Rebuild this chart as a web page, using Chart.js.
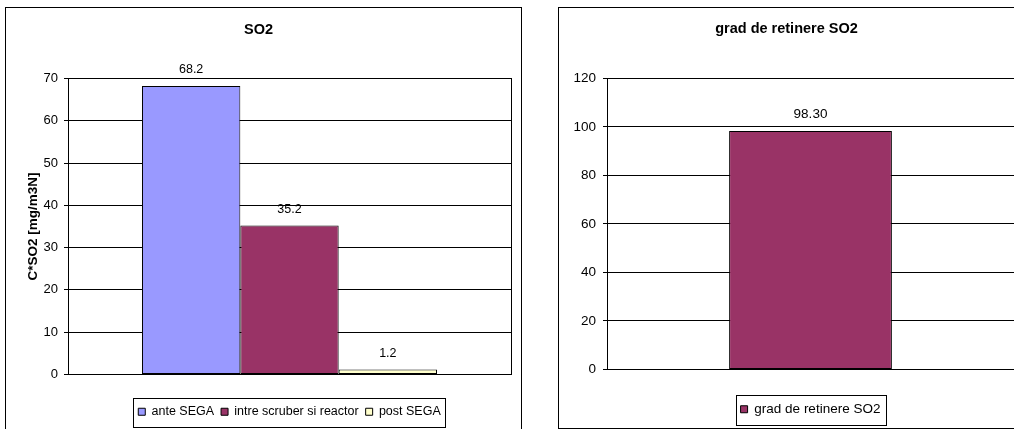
<!DOCTYPE html>
<html>
<head>
<meta charset="utf-8">
<script src="https://cdn.jsdelivr.net/npm/chart.js@4.4.1/dist/chart.umd.min.js"></script>
<style>
    html, body { margin: 0; padding: 0; background: #fff; overflow: hidden; }
    body { width: 1014px; height: 429px; position: relative; }
    .box { position: absolute; border: 1px solid #000; background: #fff; overflow: hidden; }
    #box-so2 { left: 5px; top: 7px; width: 515px; height: 422px; }
    #box-grad { left: 558px; top: 7px; width: 470px; height: 420px; }
    canvas { display: block; }
</style>
</head>
<body>
<div class="box" id="box-so2"><canvas id="chart-so2" width="514" height="420"></canvas></div>
<div class="box" id="box-grad"><canvas id="chart-grad" width="456" height="420"></canvas></div>

<script>
// concentratii SO2 pe puncte de masura
const so2Categories = ['SO2'];
const so2Series = ['ante SEGA', 'intre scruber si reactor', 'post SEGA'];
const so2Values = [68.2, 35.2, 1.2];
const so2Colors = ['#9999FF', '#993366', '#FFFFCC'];
const so2Ticks = { min: 0, max: 70, step: 10 };

// grad de retinere
const gradCategories = ['grad de retinere SO2'];
const gradSeries = ['grad de retinere SO2'];
const gradValues = [98.3];
const gradColors = ['#993366'];
const gradTicks = { min: 0, max: 120, step: 20 };

const FONT = 'Arial, "Liberation Sans", sans-serif';

// chenar negru in jurul zonei de desen
const plotFrame = {
    id: 'plotFrame',
    beforeDatasetsDraw(chart) {
        const a = chart.chartArea;
        const ctx = chart.ctx;
        ctx.save();
        ctx.strokeStyle = '#000';
        ctx.lineWidth = 1;
        ctx.strokeRect(Math.round(a.left) + 0.5, Math.round(a.top) + 0.5,
            Math.round(a.right - a.left), Math.round(a.bottom - a.top));
        ctx.restore();
    }
};

// legenda centrata sub zona de desen, nu pe tot canvasul
const legendUnderPlot = {
    id: 'legendUnderPlot',
    afterLayout(chart) {
        const lg = chart.legend;
        if (!lg) return;
        lg.left = chart.chartArea.left;
        lg.right = chart.chartArea.right;
        lg.width = lg.right - lg.left;
    }
};

// valorile deasupra coloanelor
const valueLabels = {
    id: 'valueLabels',
    afterDatasetsDraw(chart, args, opts) {
        const ctx = chart.ctx;
        ctx.save();
        ctx.fillStyle = '#000';
        ctx.font = opts.size + 'px ' + FONT;
        ctx.textAlign = 'center';
        ctx.textBaseline = 'middle';
        chart.data.datasets.forEach((ds, i) => {
            chart.getDatasetMeta(i).data.forEach((bar, j) => {
                ctx.fillText(ds.data[j].toFixed(opts.decimals), bar.x, bar.y - opts.offset);
            });
        });
        ctx.restore();
    }
};

// chenar in jurul legendei
const legendFrame = {
    id: 'legendFrame',
    afterDraw(chart, args, opts) {
        const boxes = chart.legend && chart.legend.legendHitBoxes;
        if (!boxes || !boxes.length) return;
        const x0 = Math.min(...boxes.map(b => b.left)) - opts.padX;
        const x1 = Math.max(...boxes.map(b => b.left + b.width)) + opts.padX;
        const y0 = Math.min(...boxes.map(b => b.top)) - opts.padY;
        const y1 = Math.max(...boxes.map(b => b.top + b.height)) + opts.padY;
        const ctx = chart.ctx;
        ctx.save();
        ctx.strokeStyle = '#000';
        ctx.lineWidth = 1;
        ctx.strokeRect(Math.round(x0) + 0.5, Math.round(y0) + 0.5, Math.round(x1 - x0), Math.round(y1 - y0));
        ctx.restore();
    }
};

function buildChart(canvasId, cfg) {
    const datasets = cfg.series.map((name, i) => ({
        label: name,
        data: [cfg.values[i]],
        backgroundColor: cfg.colors[i],
        borderColor: '#000',
        borderWidth: 1,
        borderSkipped: false,
        categoryPercentage: cfg.catPct,
        barPercentage: 1
    }));

    return new Chart(document.getElementById(canvasId).getContext('2d'), {
        type: 'bar',
        data: { labels: cfg.categories, datasets: datasets },
        plugins: [plotFrame, legendUnderPlot, valueLabels, legendFrame],
        options: {
            responsive: false,
            animation: false,
            layout: { padding: { left: 0, right: cfg.padRight, top: 0, bottom: cfg.padBottom } },
            scales: {
                x: {
                    ticks: { display: false },
                    grid: { display: false },
                    border: { display: true, color: '#000' },
                    afterFit(scale) { scale.height = cfg.xHeight; }
                },
                y: {
                    min: cfg.ticks.min,
                    max: cfg.ticks.max,
                    ticks: {
                        stepSize: cfg.ticks.step,
                        color: '#000',
                        padding: cfg.tickPad,
                        font: { family: FONT, size: cfg.tickSize }
                    },
                    grid: { color: '#000', lineWidth: 1, tickLength: 4 },
                    border: { color: '#000' },
                    title: {
                        display: !!cfg.yTitle,
                        text: cfg.yTitle,
                        color: '#000',
                        padding: { top: 19, bottom: 0 },
                        font: { family: FONT, size: 13.5, weight: 'bold' }
                    },
                    afterFit(scale) { scale.width = cfg.yWidth; }
                }
            },
            plugins: {
                title: {
                    display: true,
                    text: cfg.title,
                    color: '#000',
                    padding: cfg.titlePad,
                    font: { family: FONT, size: 14.5, weight: 'bold' }
                },
                legend: {
                    position: 'bottom',
                    labels: {
                        color: '#000',
                        boxWidth: 7,
                        boxHeight: 7,
                        padding: 7,
                        font: { family: FONT, size: cfg.legendSize }
                    }
                },
                tooltip: { enabled: false },
                valueLabels: { size: cfg.labelSize, offset: cfg.labelOffset, decimals: cfg.decimals },
                legendFrame: { padX: 5, padY: 8 }
            }
        }
    });
}

buildChart('chart-so2', {
    categories: so2Categories, series: so2Series, values: so2Values, colors: so2Colors,
    ticks: so2Ticks, title: 'SO2', yTitle: 'C*SO2 [mg/m3N]',
    catPct: 0.666, padRight: 9, padBottom: 0, yWidth: 62, xHeight: 24,
    titlePad: { top: 13, bottom: 40 },
    tickSize: 13, tickPad: 6, legendSize: 12.5, labelSize: 12.5, labelOffset: 16, decimals: 1
});

buildChart('chart-grad', {
    categories: gradCategories, series: gradSeries, values: gradValues, colors: gradColors,
    ticks: gradTicks, title: 'grad de retinere SO2', yTitle: '',
    catPct: 0.4, padRight: 1, padBottom: 2, yWidth: 48, xHeight: 26,
    titlePad: { top: 12, bottom: 41 },
    tickSize: 13.5, tickPad: 7, legendSize: 13.5, labelSize: 13.5, labelOffset: 17, decimals: 2
});
</script>
</body>
</html>
